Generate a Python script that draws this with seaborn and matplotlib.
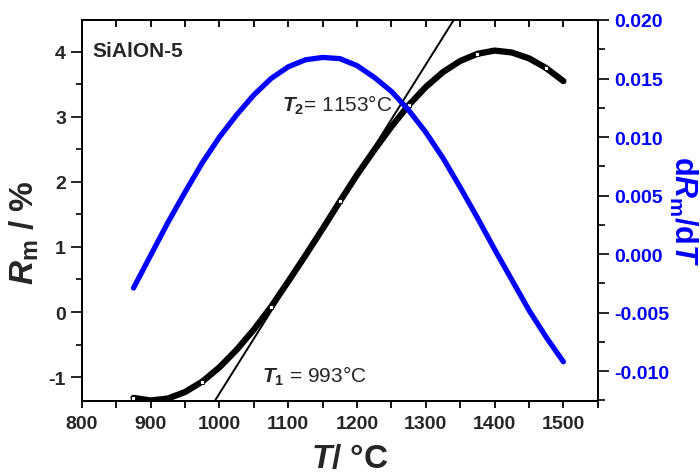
import matplotlib
matplotlib.use("Agg")
import numpy as np
import matplotlib.pyplot as plt
import matplotlib.lines as mlines
import seaborn as sns
from matplotlib.ticker import MultipleLocator, FormatStrFormatter

# Temperature grid (deg C)
temps = [875, 900, 925, 950, 975, 1000, 1025, 1050, 1075, 1100, 1125, 1150, 1175,
         1200, 1225, 1250, 1275, 1300, 1325, 1350, 1375, 1400, 1425, 1450, 1475, 1500]

# Rm (%) - black curve
rm_values = [-1.32, -1.36, -1.33, -1.23, -1.07, -0.85, -0.58, -0.27, 0.08, 0.47, 0.87, 1.28, 1.70,
             2.11, 2.49, 2.85, 3.18, 3.46, 3.69, 3.86, 3.97, 4.02, 3.99, 3.90, 3.75, 3.55]

# dRm/dT - blue curve
drdt_values = [-0.0029, -0.0001, 0.0027, 0.0053, 0.0078, 0.0100, 0.0119, 0.0136, 0.0150, 0.0160,
               0.0166, 0.0168, 0.0167, 0.0161, 0.0151, 0.0139, 0.0123, 0.0104, 0.0082, 0.0057,
               0.0031, 0.0004, -0.0022, -0.0048, -0.0071, -0.0092]

# open square symbols on the Rm curve
marker_temps = [875, 975, 1075, 1175, 1275, 1375, 1475]
marker_rm = [-1.32, -1.07, 0.08, 1.70, 3.18, 3.97, 3.75]

# tangent line through the inflection point
tangent_t = [993, 1340]
tangent_r = [-1.37, 4.48]

sns.set_style("ticks")
plt.rcParams['font.family'] = ['Liberation Sans', 'DejaVu Sans']
plt.rcParams['font.weight'] = 'bold'
plt.rcParams['axes.labelweight'] = 'bold'
plt.rcParams['axes.unicode_minus'] = False
plt.rcParams['mathtext.fontset'] = 'custom'
plt.rcParams['mathtext.rm'] = 'Liberation Sans:bold'
plt.rcParams['mathtext.it'] = 'Liberation Sans:italic:bold'
plt.rcParams['mathtext.bf'] = 'Liberation Sans:bold'
plt.rcParams['lines.solid_joinstyle'] = 'round'
plt.rcParams['lines.solid_capstyle'] = 'round'

fig = plt.figure(figsize=(7, 4.77), dpi=100)
ax = fig.add_axes([0.117, 0.157, 0.737, 0.799])

# Rm curve
sns.lineplot(x=temps, y=rm_values, ax=ax, color='black', linewidth=4.5, zorder=2)
sns.scatterplot(x=marker_temps, y=marker_rm, ax=ax, marker='s', s=9, color='white',
                edgecolor='black', linewidth=0.6, zorder=3)
# tangent
sns.lineplot(x=tangent_t, y=tangent_r, ax=ax, color='black', linewidth=1.4, zorder=2)

ax.set_xlim(800, 1550)
ax.set_ylim(-1.37, 4.49)
ax.xaxis.set_major_locator(MultipleLocator(100))
ax.xaxis.set_minor_locator(MultipleLocator(50))
ax.yaxis.set_major_locator(MultipleLocator(1))
ax.yaxis.set_minor_locator(MultipleLocator(0.5))
ax.tick_params(axis='x', which='both', direction='out', length=5, width=1.3, labelsize=14, pad=5,
               color='black', bottom=True, top=True)
ax.tick_params(axis='y', which='major', direction='out', length=8, width=1.2, labelsize=14,
               color='black')
ax.tick_params(axis='y', which='minor', direction='out', length=4, width=1.2, color='black')
for s in ax.spines.values():
    s.set_linewidth(1.3)
    s.set_color('black')

ax.set_xlabel(r'$T$/ °C', fontsize=24, fontweight='bold')
ax.xaxis.set_label_coords(0.52, -0.11)
ax.set_ylabel(r'$R_{\mathrm{m}}$ / %', fontsize=24, fontweight='bold')
ax.yaxis.set_label_coords(-0.08, 0.444)

ax.text(816, 4.02, 'SiAlON-5', fontsize=15, fontweight='bold', va='center', ha='left')
ax.text(1091, 3.2, r'$T_{2}$= 1153°C', fontsize=15, fontweight='normal', va='center', ha='left')
ax.text(1062, -0.98, r'$T_{1}$ = 993°C', fontsize=15, fontweight='normal', va='center', ha='left')

# derivative on twin axis
ax2 = ax.twinx()
sns.lineplot(x=temps, y=drdt_values, ax=ax2, color='#0000ff', linewidth=3.8)
ax2.set_ylim(-0.01256, 0.020)
ax2.yaxis.set_major_locator(MultipleLocator(0.005))
ax2.yaxis.set_minor_locator(MultipleLocator(0.0025))
ax2.yaxis.set_major_formatter(FormatStrFormatter('%.3f'))
ax2.tick_params(axis='y', which='major', direction='out', length=8, width=1.2, labelsize=14,
                labelcolor='#0000ff', color='black')
ax2.tick_params(axis='y', which='minor', direction='out', length=5, width=1.2, color='black')
ax2.set_ylabel(r'd$R_{\mathrm{m}}$/d$T$', fontsize=22, fontweight='bold', color='#0000ff',
               rotation=270, labelpad=22)
for s in ax2.spines.values():
    s.set_linewidth(1.3)
    s.set_color('black')

# top ticks point inward, bottom ones outward
for t in ax.xaxis.get_major_ticks() + ax.xaxis.get_minor_ticks():
    t.tick2line.set_marker(mlines.TICKDOWN)

fig.savefig('out.png', dpi=100)
